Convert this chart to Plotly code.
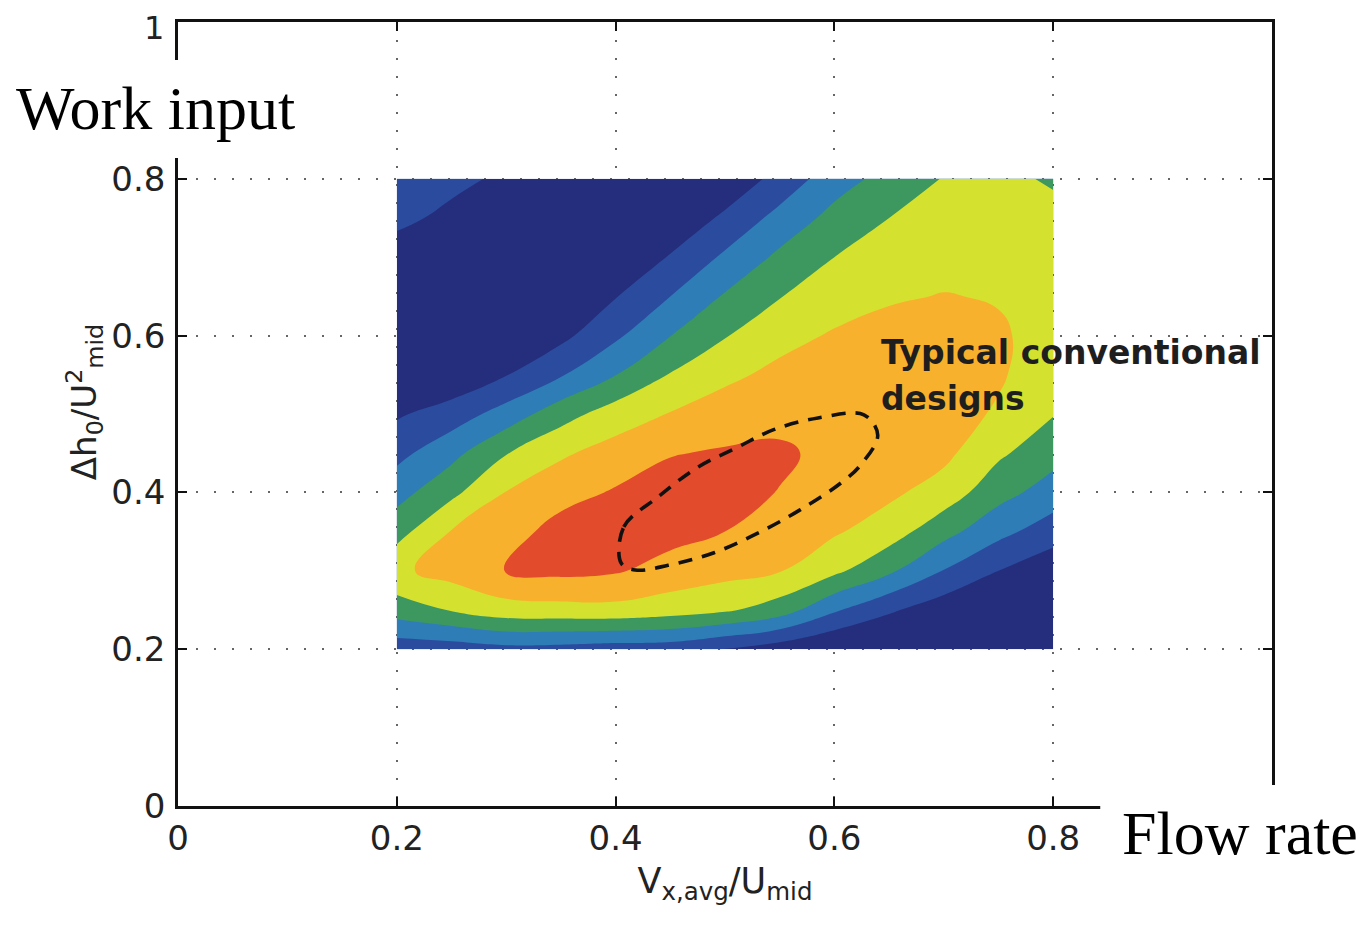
import plotly.graph_objects as go

# Grid of the efficiency-band map (band index: 0 navy ... 6 red)
x_vals = [0.20, 0.25, 0.30, 0.35, 0.40, 0.45, 0.50, 0.55, 0.60, 0.65, 0.70, 0.75, 0.80]
y_vals = [0.20, 0.25, 0.30, 0.35, 0.40, 0.45, 0.50, 0.55, 0.60, 0.65, 0.70, 0.75, 0.80]

# each column is one x value, listed from y=0.2 up to y=0.8
col_020 = [0.90, 3.00, 4.30, 3.12, 2.12, 1.20, 0.37, 0.00, -0.20, -0.20, 0.10, 0.70, 1.10]
col_025 = [0.98, 3.56, 4.90, 4.55, 3.25, 2.20, 0.97, -0.30, -0.40, -0.40, -0.20, 0.30, 0.71]
col_030 = [1.20, 4.09, 5.52, 5.05, 4.53, 3.45, 1.92, 0.46, -0.30, -0.50, -0.50, -0.20, 0.35]
col_035 = [1.15, 4.15, 5.75, 5.90, 5.12, 4.36, 3.09, 1.41, 0.23, -0.30, -0.50, -0.50, -0.30]
col_040 = [1.00, 4.20, 5.60, 6.00, 5.60, 4.90, 3.99, 2.48, 1.32, 0.45, -0.20, -0.50, -0.50]
col_045 = [0.95, 3.97, 5.12, 5.85, 5.90, 5.45, 4.55, 3.56, 2.48, 1.50, 0.57, -0.34, -0.50]
col_050 = [0.45, 3.65, 4.83, 5.50, 5.80, 5.60, 4.99, 4.28, 3.44, 2.60, 1.67, 0.70, -0.27]
col_055 = [-0.05, 3.00, 4.55, 4.99, 5.47, 5.65, 5.22, 4.75, 4.18, 3.46, 2.71, 1.83, 0.84]
col_060 = [-0.57, 1.63, 3.72, 4.62, 5.00, 5.25, 5.15, 4.90, 4.60, 4.06, 3.50, 2.82, 2.05]
col_065 = [-0.80, 0.65, 2.68, 3.99, 4.70, 5.00, 5.05, 4.95, 4.75, 4.42, 3.95, 3.50, 2.85]
col_070 = [-1.00, -0.10, 1.46, 2.84, 4.06, 4.75, 4.85, 4.85, 4.75, 4.53, 4.25, 3.95, 3.55]
col_075 = [-1.00, -0.50, 0.50, 1.80, 2.86, 3.67, 4.40, 4.60, 4.60, 4.45, 4.20, 3.90, 3.70]
col_080 = [-1.00, -0.60, -0.20, 0.98, 2.05, 2.86, 3.55, 4.00, 4.20, 4.20, 4.00, 3.75, 3.40]

columns = [col_020, col_025, col_030, col_035, col_040, col_045, col_050,
           col_055, col_060, col_065, col_070, col_075, col_080]
z_grid = [[columns[i][j] for i in range(len(x_vals))] for j in range(len(y_vals))]

band_colors = ["#252e7d", "#2b4c9e", "#2e7db7", "#3c985e", "#d5e12f", "#f8b12c", "#e24b2b"]

# "Typical conventional designs" dashed outline
design_x = [0.405, 0.4075, 0.4386, 0.475, 0.512, 0.5445, 0.585, 0.627, 0.6396,
            0.624, 0.606, 0.569, 0.530, 0.490, 0.448, 0.418, 0.405]
design_y = [0.310, 0.356, 0.394, 0.432, 0.458, 0.480, 0.495, 0.499, 0.473,
            0.435, 0.412, 0.378, 0.348, 0.323, 0.307, 0.301, 0.310]

x_ticks = [0, 0.2, 0.4, 0.6, 0.8, 1.0]
x_ticktext = ["0", "0.2", "0.4", "0.6", "0.8", ""]
y_ticks = [0, 0.2, 0.4, 0.6, 0.8, 1.0]
y_ticktext = ["0", "0.2", "0.4", "0.6", "0.8", ""]
y_top_label = "1"

n = len(band_colors)
cscale = []
for k, c in enumerate(band_colors):
    lo = 0.0 if k == 0 else (k - 0.5) / (n - 1)
    hi = 1.0 if k == n - 1 else (k + 0.5) / (n - 1)
    cscale.append([lo, c])
    cscale.append([hi, c])

fig = go.Figure()
fig.add_trace(go.Contour(
    x=x_vals, y=y_vals, z=z_grid,
    zmin=0, zmax=6, zauto=False,
    colorscale=cscale, showscale=False,
    contours=dict(start=0.5, end=5.5, size=1, coloring="fill"),
    line=dict(width=0, smoothing=1.3),
    hoverinfo="skip",
))
fig.add_trace(go.Scatter(
    x=design_x, y=design_y, mode="lines",
    line=dict(color="#111111", width=3.6, dash="14px,10px", shape="spline", smoothing=1.0),
    hoverinfo="skip", showlegend=False,
))

tick_font = dict(family="DejaVu Sans", size=34, color="#222222")
axis_common = dict(
    range=[0, 1], showline=True, linecolor="#111111", linewidth=2.5, mirror="ticks",
    ticks="inside", ticklen=9, tickwidth=2, tickcolor="#111111",
    showgrid=True, gridcolor="#666666", gridwidth=2, griddash="2px,16px",
    zeroline=False, tickfont=tick_font,
)
fig.update_xaxes(**axis_common, tickvals=x_ticks, ticktext=x_ticktext,
                 title=dict(text="V<sub>x,avg</sub>/U<sub>mid</sub>",
                            font=dict(family="DejaVu Sans", size=35, color="#222222"),
                            standoff=12))
fig.update_yaxes(**axis_common, tickvals=y_ticks, ticktext=y_ticktext,
                 ticklabelstandoff=3)

# top y tick label, kept inside the page
fig.add_annotation(text=y_top_label, xref="paper", yref="paper", x=-0.0115, y=1.0179,
                   xanchor="right", yanchor="top", showarrow=False, borderpad=0,
                   font=dict(family="DejaVu Sans", size=32, color="#222222"))

# y-axis title placed as rotated text
fig.add_annotation(text="Δh<sub>0</sub>/U<sup>2</sup><sub>mid</sub>", xref="paper", yref="paper",
                   x=-0.086, y=0.515, xanchor="center", yanchor="middle", textangle=-90,
                   showarrow=False, font=dict(family="DejaVu Sans", size=34, color="#222222"))

# white patches behind the added labels
fig.add_shape(type="rect", xref="paper", yref="paper", x0=-0.2, x1=0.116, y0=0.8265, y1=0.9515,
              fillcolor="white", line=dict(width=0), layer="above")
fig.add_shape(type="rect", xref="paper", yref="paper", x0=0.843, x1=1.12, y0=-0.13, y1=0.0268,
              fillcolor="white", line=dict(width=0), layer="above")

fig.add_annotation(text="Work input", xref="paper", yref="paper", x=-0.021, y=0.890,
                   xanchor="center", yanchor="middle", showarrow=False,
                   font=dict(family="Liberation Serif", size=62, color="black"))
fig.add_annotation(text="Flow rate", xref="paper", yref="paper", x=0.9707, y=-0.0344,
                   xanchor="center", yanchor="middle", showarrow=False,
                   font=dict(family="Liberation Serif", size=62, color="black"))
fig.add_annotation(text="<b>Typical conventional</b>", x=0.6405, y=0.579, xref="x", yref="y",
                   xanchor="left", yanchor="middle", showarrow=False,
                   font=dict(family="DejaVu Sans", size=33, color="#1e1e1e"))
fig.add_annotation(text="<b>designs</b>", x=0.6405, y=0.52, xref="x", yref="y",
                   xanchor="left", yanchor="middle", showarrow=False,
                   font=dict(family="DejaVu Sans", size=33, color="#1e1e1e"))

fig.update_layout(
    width=1372, height=929,
    margin=dict(l=170, r=108, t=14, b=131, autoexpand=False),
    paper_bgcolor="white", plot_bgcolor="white",
    showlegend=False,
)
fig.write_html("out.html")
